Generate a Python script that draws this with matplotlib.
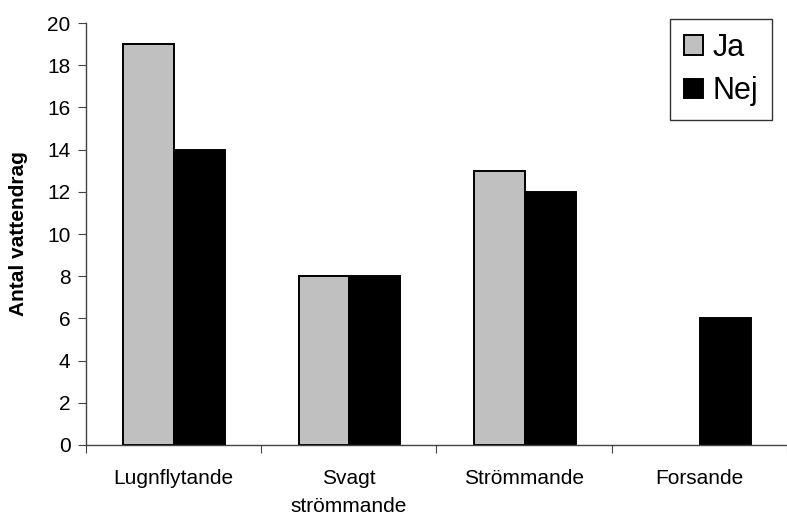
import matplotlib
matplotlib.use("Agg")
import matplotlib.pyplot as plt
import numpy as np

plt.rcParams['font.family'] = ['Liberation Sans', 'DejaVu Sans']

# antal vattendrag per strömtyp
kategorier = ['Lugnflytande', 'Svagt\nströmmande', 'Strömmande', 'Forsande']
ja = [19, 8, 13, 0]
nej = [14, 8, 12, 6]

fig = plt.figure(figsize=(7.87, 5.16), dpi=100)
ax = fig.add_axes([0.109, 0.1376, 0.891, 0.8178])

x = np.arange(len(kategorier))
w = 0.29
# nollstaplar ritas utan kantlinje
ax.bar(x - w/2 + 0.004, ja, w, color='#c0c0c0', edgecolor='black',
       linewidth=[1.4 if v else 0 for v in ja], label='Ja')
ax.bar(x + w/2 + 0.004, nej, w, color='black', edgecolor='black',
       linewidth=[1.4 if v else 0 for v in nej], label='Nej')

ax.set_ylim(0, 20)
ax.set_yticks(np.arange(0, 21, 2))
ax.set_xlim(-0.5, 3.45)

# kategorietiketter mitt i grupperna, streck vid gränserna
ax.set_xticks(np.arange(-0.5, 4, 1))
ax.set_xticklabels([])
ax.set_xticks(x, minor=True)
ax.set_xticklabels(kategorier, minor=True, fontsize=15, linespacing=1.6)
ax.tick_params(axis='x', which='minor', length=0, pad=17)
ax.tick_params(axis='x', which='major', length=6, direction='out', color='#444444')
ax.tick_params(axis='y', length=6, direction='out', labelsize=15, pad=5, color='#444444')

for s in ['top', 'right']:
    ax.spines[s].set_visible(False)
for s in ['left', 'bottom']:
    ax.spines[s].set_color('#444444')
    ax.spines[s].set_linewidth(1.0)

ax.set_ylabel('Antal vattendrag', fontsize=15, fontweight='bold', labelpad=14)

leg = ax.legend(loc='upper right', bbox_to_anchor=(0.978, 1.01), fontsize=22,
                frameon=True, fancybox=False, edgecolor='black',
                handlelength=0.62, handleheight=0.62, handletextpad=0.3,
                labelspacing=0.45, borderpad=0.45, borderaxespad=0)
leg.get_frame().set_linewidth(1.0)

fig.savefig('out.png', dpi=100)
